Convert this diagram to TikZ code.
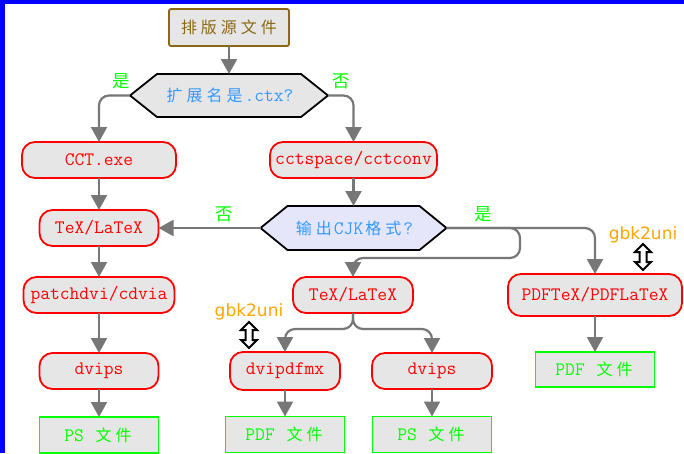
\documentclass[tikz,border=0pt]{standalone}
\usepackage{fontspec}
\usetikzlibrary{arrows.meta,backgrounds}
\newfontfamily\cjkf{Noto Sans CJK SC}
\newfontfamily\sansf{DejaVu Sans}
\def\zh#1{\zhloop#1\relax}
\def\zhloop#1{\ifx\relax#1\else\makebox[20pt]{\cjkf\fontsize{16}{17}\selectfont #1}\expandafter\zhloop\fi}
\definecolor{nodefill}{HTML}{E6E6E6}
\definecolor{lav}{HTML}{E6E6FA}
\definecolor{brn}{HTML}{8B6914}
\definecolor{txtblue}{HTML}{3399FF}
\definecolor{arrgray}{HTML}{777777}
\definecolor{grn}{HTML}{00FF00}
\definecolor{org}{HTML}{FFA500}
\definecolor{bord}{HTML}{0000FF}
\tikzset{
  basefont/.style={font={\ttfamily\fontsize{19}{20}\selectfont}},
  procbox/.style={basefont, draw=red, line width=1.8pt, fill=nodefill, text=red,
    rounded corners=13pt, minimum height=36pt, inner sep=0pt, outer sep=0pt},
  filebox/.style={basefont, draw=grn, line width=1.8pt, fill=nodefill, text=grn,
    minimum height=36pt, minimum width=119pt, inner sep=0pt, outer sep=0pt},
  srcbox/.style={basefont, draw=brn, line width=1.8pt, fill=nodefill, text=brn,
    rounded corners=2pt, minimum height=37pt, minimum width=120pt, inner sep=0pt, outer sep=0pt},
  hextext/.style={basefont, text=txtblue, minimum height=43pt, inner sep=0pt, outer sep=0pt},
  hexline/.style={draw=black, line width=1.8pt, line join=miter},
  lab/.style={text=grn, inner sep=0pt, font={\cjkf\fontsize{17.5}{18}\selectfont}},
  gbk/.style={text=org, inner sep=0pt, font={\sansf\fontsize{17}{18}\selectfont}},
  conn/.style={draw=arrgray, line width=2.2pt, -{Triangle[width=16pt,length=15pt]}, rounded corners=10pt},
  dblarrow/.style={draw=black, line width=2pt, fill=white, line join=miter}
}
\newcommand\updown[3]{% x, top y, bottom y
  \draw[dblarrow] (#1,#2) -- (#1+8,#2+8) -- (#1+3.5,#2+8) -- (#1+3.5,#3-8) -- (#1+8,#3-8)
    -- (#1,#3) -- (#1-8,#3-8) -- (#1-3.5,#3-8) -- (#1-3.5,#2+8) -- (#1-8,#2+8) -- cycle;}
\begin{document}
\begin{tikzpicture}[x=1pt,y=-1pt]
\useasboundingbox (0,0) rectangle (684,453);
% nodes
\node[srcbox] (src) at (229,27.5) {\zh{排版源文件}};
\node[hextext, minimum width=198pt] (d1) at (229,95.5) {\zh{扩展名是}.ctx?};
\node[procbox, minimum width=154pt] (cct) at (99,160) {CCT.exe};
\node[procbox, minimum width=167pt] (cctc) at (353.5,160) {cctspace/cctconv};
\node[procbox, minimum width=119pt] (texl) at (99,228) {TeX/LaTeX};
\node[hextext, minimum width=186pt, minimum height=44pt] (d2) at (353.5,228) {\zh{输出}CJK\zh{格式}?};
\node[procbox, minimum width=151pt] (patch) at (99,295) {patchdvi/cdvia};
\node[procbox, minimum width=119pt] (dvipsl) at (99,371) {dvips};
\node[filebox] (psl) at (99,435) {PS \zh{文件}};
\node[procbox, minimum width=120pt] (texm) at (353,295) {TeX/LaTeX};
\node[procbox, minimum width=110pt, minimum height=38pt] (dvipdfmx) at (285,371) {dvipdfmx};
\node[procbox, minimum width=120pt] (dvipsm) at (432,371) {dvips};
\node[filebox] (pdfm) at (285,434.5) {PDF \zh{文件}};
\node[filebox] (psm) at (432,434.5) {PS \zh{文件}};
\node[procbox, minimum width=174pt, minimum height=42pt] (pdftex) at (595,295) {PDFTeX/PDFLaTeX};
\node[filebox, minimum height=35pt] (pdfr) at (595,369.5) {PDF \zh{文件}};
% hexagons
\begin{scope}[on background layer]
\draw[hexline, fill=nodefill] (d1.west) -- ([xshift=27pt]d1.north west) -- ([xshift=-27pt]d1.north east) -- (d1.east) -- ([xshift=-27pt]d1.south east) -- ([xshift=27pt]d1.south west) -- cycle;
\draw[hexline, fill=lav] (d2.west) -- ([xshift=27pt]d2.north west) -- ([xshift=-27pt]d2.north east) -- (d2.east) -- ([xshift=-27pt]d2.south east) -- ([xshift=27pt]d2.south west) -- cycle;
\end{scope}
% labels
\node[lab] (l1) at (121,81) {是};
\node[lab] (l2) at (341,81) {否};
\node[lab] (l3) at (224,214) {否};
\node[lab] (l4) at (483,214) {是};
\node[gbk] (g1) at (643,235) {gbk2uni};
\node[gbk] (g2) at (249,312) {gbk2uni};
\updown{643}{244}{270}
\updown{249}{322}{348}
% connectors
\coordinate (j1) at (520,258);
\coordinate (j2) at (353,329);
\draw[conn] (src.south) -- (d1.north);
\draw[conn] (d1.west) -| (cct.north);
\draw[conn] (d1.east) -| (cctc.north);
\draw[conn] (cct.south) -- (texl.north);
\draw[conn] (cctc.south) -- (d2.north);
\draw[conn] (d2.west) -- (texl.east);
\draw[conn] (d2.east) -| (pdftex.north);
\draw[conn] (d2.east) -| (j1) -| (texm.north);
\draw[conn] (texm.south) -- (j2) -| (dvipdfmx.north);
\draw[conn] (texm.south) -- (j2) -| (dvipsm.north);
\draw[conn] (texl.south) -- (patch.north);
\draw[conn] (patch.south) -- (dvipsl.north);
\draw[conn] (dvipsl.south) -- (psl.north);
\draw[conn] (dvipdfmx.south) -- (pdfm.north);
\draw[conn] (dvipsm.south) -- (psm.north);
\draw[conn] (pdftex.south) -- (pdfr.north);
% frame
\fill[bord] (0,0) rectangle (5,453);
\fill[bord] (0,0) rectangle (684,4.3);
\end{tikzpicture}
\end{document}
